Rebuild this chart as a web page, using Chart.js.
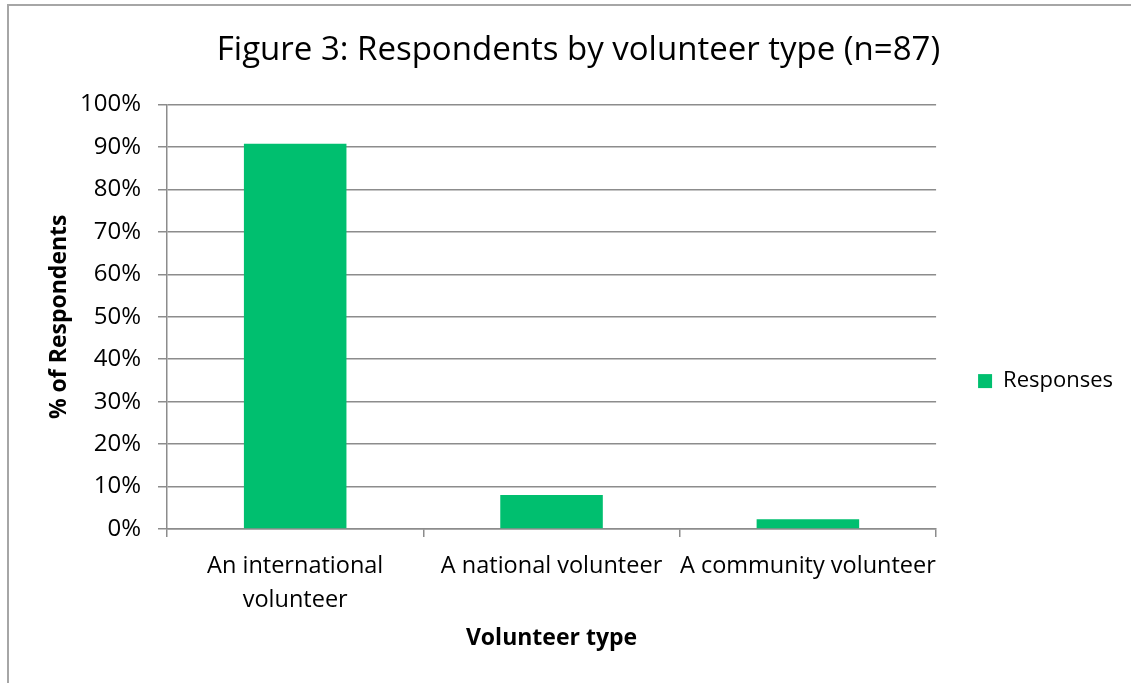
<!DOCTYPE html>
<html>
<head>
<meta charset="utf-8">
<script src="https://cdn.jsdelivr.net/npm/chart.js@4/dist/chart.umd.min.js"></script>
<style>
  html, body { margin: 0; padding: 0; background: #fff; overflow: hidden; }
  #wrap { position: relative; width: 1131px; height: 683px; }
  #frame {
    position: absolute; left: 7px; top: 4px; right: -10px; bottom: -10px;
    border-top: 2px solid #a6a6a6; border-left: 2px solid #a6a6a6;
    pointer-events: none;
  }
</style>
</head>
<body>
<div id="wrap">
  <canvas id="chart" width="1131" height="683"></canvas>
  <div id="frame"></div>
</div>
<script>
(function () {
  "use strict";

  var categories = [
    ["An international", "volunteer"],
    "A national volunteer",
    "A community volunteer"
  ];
  var responses = [90.8, 8.0, 2.3];
  var yTicks = [0, 10, 20, 30, 40, 50, 60, 70, 80, 90, 100];

  var FONT = "'Open Sans', 'Noto Sans', sans-serif";
  var GRID = "#8c8c8c";
  var TEXT = "#000";

  new Chart(document.getElementById("chart"), {
    type: "bar",
    data: {
      labels: categories,
      datasets: [{
        label: "Responses",
        data: responses,
        backgroundColor: "#00bf6f",
        borderWidth: 0,
        barPercentage: 0.4,
        categoryPercentage: 1
      }]
    },
    options: {
      responsive: false,
      animation: false,
      layout: { padding: { left: 34, right: 8, top: 0, bottom: 0 } },
      plugins: {
        tooltip: { enabled: false },
        title: {
          display: true,
          text: "Figure 3: Respondents by volunteer type (n=87)",
          color: TEXT,
          font: { family: FONT, size: 33, weight: "normal" },
          padding: { top: 31, bottom: 34 }
        },
        legend: {
          position: "right",
          // empty spacer title pushes the single entry a little below centre
          title: {
            display: true,
            text: " ",
            font: { size: 1 },
            padding: { top: 0, bottom: 78 }
          },
          labels: {
            color: TEXT,
            font: { family: FONT, size: 22 },
            boxWidth: 14,
            boxHeight: 14,
            padding: 42
          }
        }
      },
      scales: {
        x: {
          grid: {
            offset: true,
            drawOnChartArea: false,
            drawTicks: true,
            tickLength: 8,
            color: GRID,
            lineWidth: 1.5
          },
          border: { color: GRID, width: 1.5 },
          ticks: {
            color: TEXT,
            font: { family: FONT, size: 23.5, lineHeight: 1.45 },
            padding: 12,
            maxRotation: 0,
            autoSkip: false
          },
          title: {
            display: true,
            text: "Volunteer type",
            color: TEXT,
            font: { family: FONT, size: 23, weight: "bold" },
            padding: { top: 0, bottom: 31 }
          },
          afterFit: function (scale) { scale.height = 154; }
        },
        y: {
          min: 0,
          max: 100,
          afterBuildTicks: function (scale) {
            scale.ticks = yTicks.map(function (v) { return { value: v }; });
          },
          grid: { color: GRID, lineWidth: 1.5, tickLength: 9 },
          border: { color: GRID, width: 1.5 },
          ticks: {
            color: TEXT,
            font: { family: FONT, size: 24 },
            padding: 17,
            callback: function (v) { return v + "%"; }
          },
          title: {
            display: true,
            text: "% of Respondents",
            color: TEXT,
            font: { family: FONT, size: 23, weight: "bold" },
            padding: { top: 12, bottom: 0 }
          },
          afterFit: function (scale) { scale.width = 133; }
        }
      }
    }
  });
})();
</script>
</body>
</html>
